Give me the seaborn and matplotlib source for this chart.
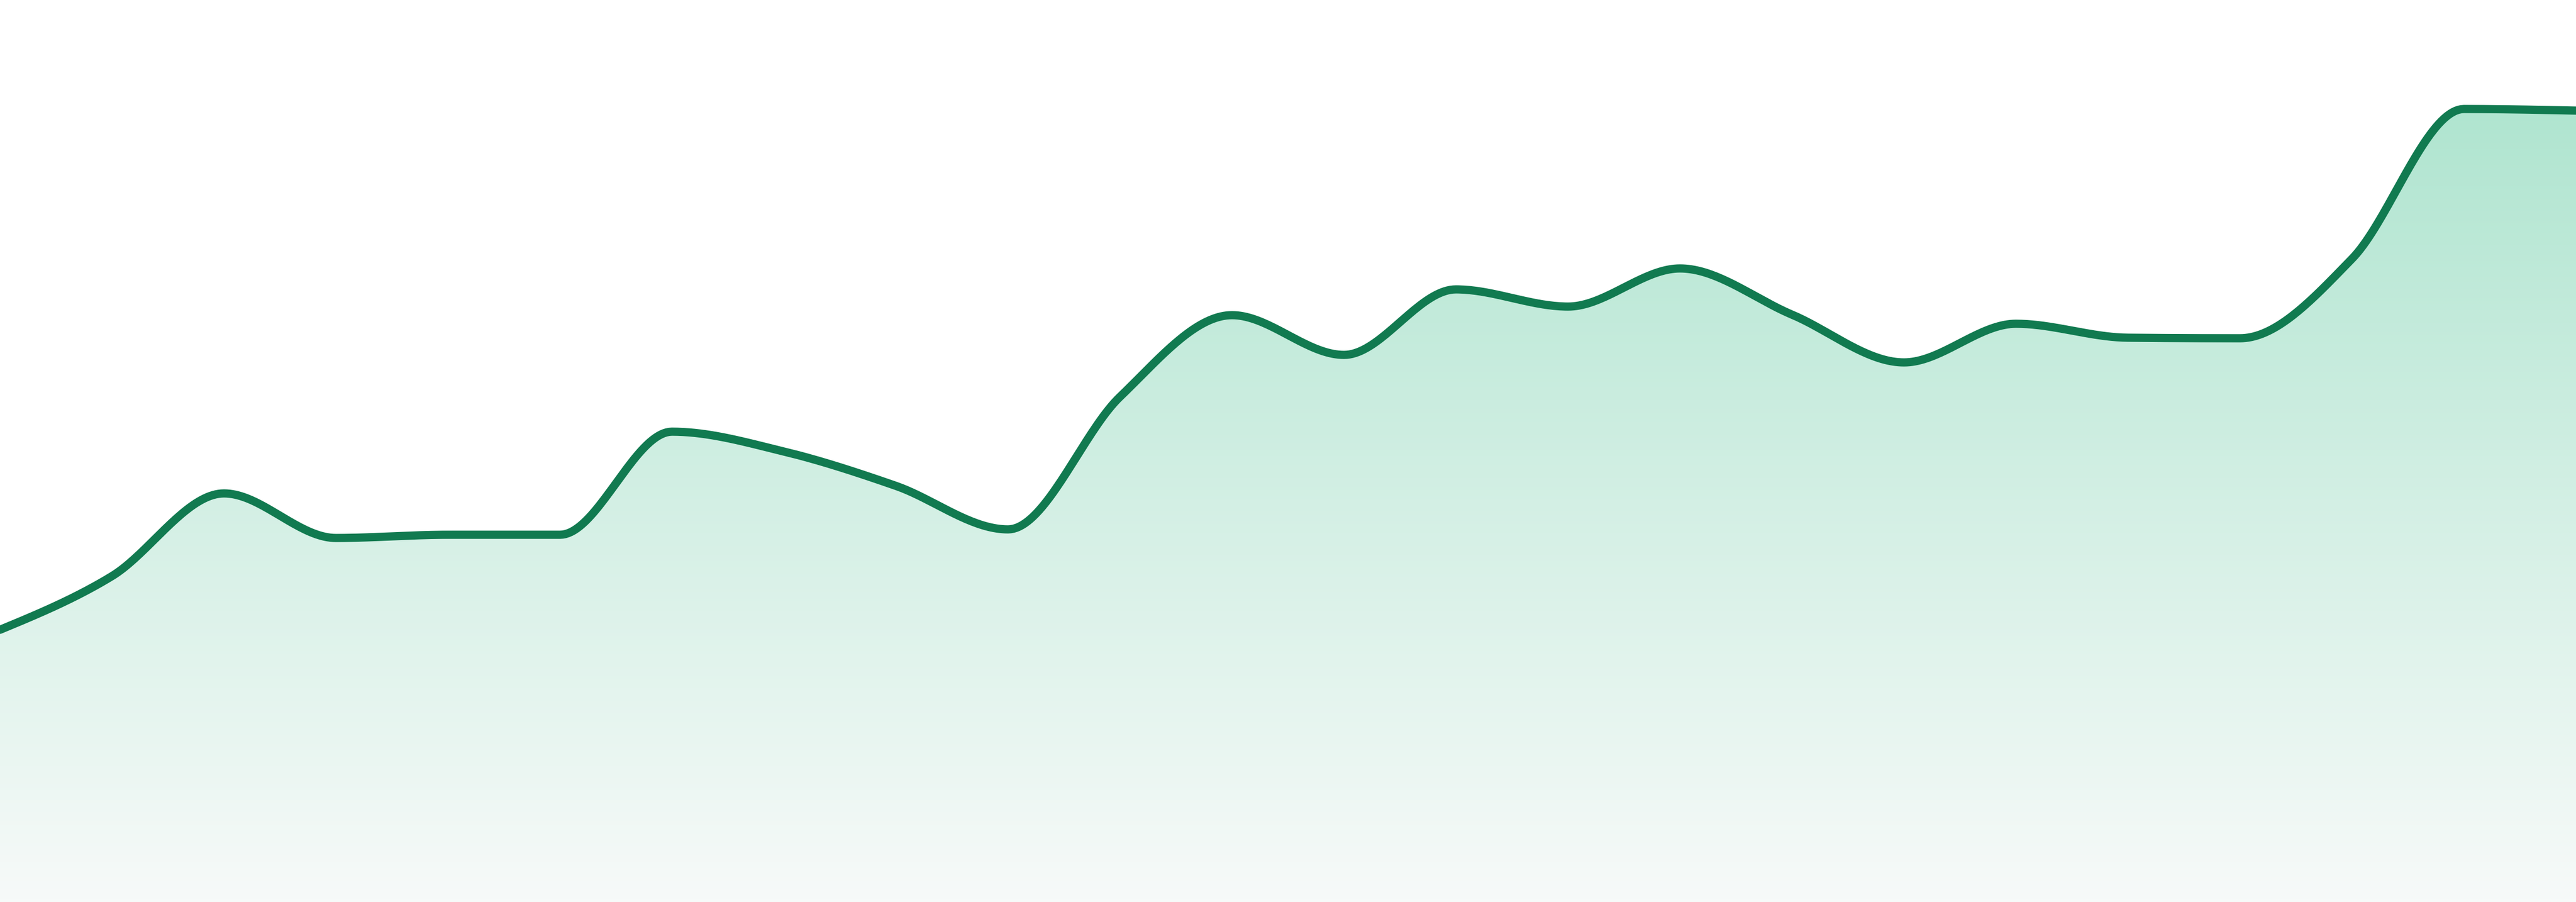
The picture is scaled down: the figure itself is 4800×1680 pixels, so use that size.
import numpy as np
import matplotlib.pyplot as plt
import seaborn as sns
from matplotlib.colors import LinearSegmentedColormap
from matplotlib.patches import Polygon

# values (24 evenly spaced points)
steps = list(range(24))
values = [507, 607, 761, 678, 684, 684, 876, 839, 775, 694, 941, 1093,
          1019, 1141, 1109, 1180, 1094, 1005, 1077, 1051, 1050, 1198, 1477, 1474]

line_color = '#117a50'
fill_top = '#b0e5d0'
fill_bottom = '#f7faf9'


def monotone_curve(x, y, n=40):
    # monotone cubic (same idea as d3 curveMonotoneX)
    x = np.asarray(x, float)
    y = np.asarray(y, float)
    h = np.diff(x)
    s = np.diff(y) / h
    m = np.zeros_like(y)
    for i in range(1, len(y) - 1):
        p = (s[i - 1] * h[i] + s[i] * h[i - 1]) / (h[i - 1] + h[i])
        m[i] = (np.sign(s[i - 1]) + np.sign(s[i])) * min(abs(s[i - 1]), abs(s[i]), 0.5 * abs(p))
    m[0] = (3 * s[0] - m[1]) / 2
    m[-1] = (3 * s[-1] - m[-2]) / 2
    xs, ys = [], []
    for i in range(len(x) - 1):
        t = np.linspace(0, 1, n, endpoint=False)
        h00 = 2 * t**3 - 3 * t**2 + 1
        h10 = t**3 - 2 * t**2 + t
        h01 = -2 * t**3 + 3 * t**2
        h11 = t**3 - t**2
        xs.append(x[i] + t * h[i])
        ys.append(h00 * y[i] + h10 * h[i] * m[i] + h01 * y[i + 1] + h11 * h[i] * m[i + 1])
    xs.append([x[-1]])
    ys.append([y[-1]])
    return np.concatenate(xs), np.concatenate(ys)


sns.set_style('white')
fig = plt.figure(figsize=(48, 16.8), dpi=100)
ax = fig.add_axes([0, 0, 1, 1])

cx, cy = monotone_curve(steps, values)

ymax = 1680
cmap = LinearSegmentedColormap.from_list('fade', [fill_bottom, fill_top])
grad = np.linspace(0, 1, 256).reshape(-1, 1)
img = ax.imshow(grad, cmap=cmap, aspect='auto', origin='lower',
                extent=[steps[0], steps[-1], 0, max(values)], zorder=1)
poly = Polygon(np.column_stack([np.r_[cx, cx[-1], cx[0]], np.r_[cy, 0, 0]]),
               closed=True, facecolor='none', edgecolor='none')
ax.add_patch(poly)
img.set_clip_path(poly)

sns.lineplot(x=cx, y=cy, ax=ax, color=line_color, linewidth=11, sort=False, zorder=3)

ax.set_xlim(steps[0], steps[-1])
ax.set_ylim(0, ymax)
ax.axis('off')

fig.savefig('out.png', dpi=100)
plt.close(fig)
